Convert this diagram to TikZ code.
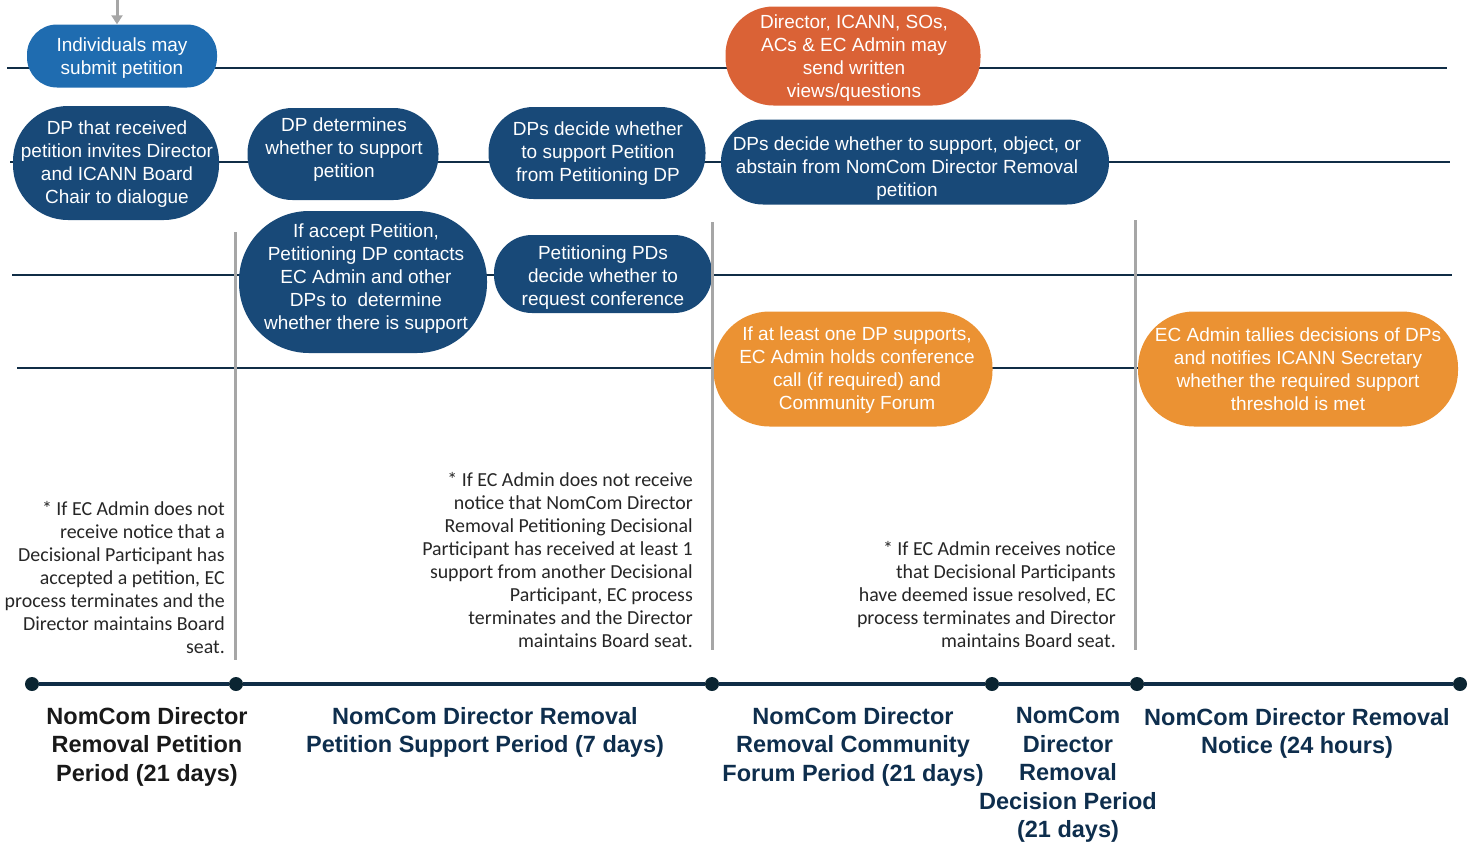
\documentclass[tikz,border=0pt]{standalone}
\usepackage{fontspec}
\setmainfont{Liberation Sans}
\newfontfamily\notefont{Carlito}
\usetikzlibrary{arrows.meta}
\definecolor{dblue}{RGB}{24,73,120}
\definecolor{lblue}{RGB}{31,108,176}
\definecolor{redor}{RGB}{218,98,54}
\definecolor{orng}{RGB}{235,146,51}
\definecolor{lane}{RGB}{16,45,70}
\definecolor{vgray}{RGB}{166,166,166}
\definecolor{notec}{RGB}{38,38,38}
\definecolor{labc}{RGB}{14,46,77}
\definecolor{dotc}{RGB}{11,37,50}
\tikzset{
  pill/.style={draw=none, inner sep=0pt},
  ptext/.style={text=white, align=center, inner sep=0pt,
    font=\fontsize{19}{23}\selectfont},
  laneline/.style={draw=lane, line width=2.5pt},
  vline/.style={draw=vgray, line width=3pt},
  note/.style={text=notec, align=right, inner sep=0pt, anchor=east,
    font=\notefont\fontsize{19.9}{23}\selectfont},
  period/.style={text=labc, align=center, inner sep=0pt,
    font=\bfseries\fontsize{23.5}{28.5}\selectfont},
  tdot/.style={circle, fill=dotc, minimum size=14pt, inner sep=0pt},
}
\begin{document}
\begin{tikzpicture}[x=1pt, y=-1pt]
\useasboundingbox (0,0) rectangle (1471,844);
% lanes
\coordinate (l1a) at (7,68);   \coordinate (l1b) at (1447,68);
\coordinate (l2a) at (10,162); \coordinate (l2b) at (1450,162);
\coordinate (l3a) at (12,275); \coordinate (l3b) at (1452,275);
\coordinate (l4a) at (17,368); \coordinate (l4b) at (1457,368);
\draw[laneline] (l1a) -- (l1b);
\draw[laneline] (l2a) -- (l2b);
\draw[laneline] (l3a) -- (l3b);
\draw[laneline] (l4a) -- (l4b);

% node shapes
\node[pill, fill=lblue, minimum width=190pt, minimum height=63pt, rounded corners=30pt] (n1) at (122,56) {};
\node[pill, fill=redor, minimum width=255pt, minimum height=99pt, rounded corners=48pt] (n2) at (853,56) {};
\node[pill, fill=dblue, minimum width=206pt, minimum height=114pt, rounded corners=55pt] (n3) at (116,163) {};
\node[pill, fill=dblue, minimum width=191pt, minimum height=92pt, rounded corners=45pt] (n4) at (343,154) {};
\node[pill, fill=dblue, minimum width=217pt, minimum height=92pt, rounded corners=45pt] (n5) at (597,153) {};
\node[pill, fill=dblue, minimum width=388pt, minimum height=85pt, rounded corners=42pt] (n6) at (915,162) {};
\node[pill, fill=dblue, minimum width=248pt, minimum height=142pt, rounded corners=70pt] (n7) at (363,282) {};
\node[pill, fill=dblue, minimum width=218pt, minimum height=78pt, rounded corners=38pt] (n8) at (603,274) {};
\node[pill, fill=orng, minimum width=279pt, minimum height=115pt, rounded corners=56pt] (n9) at (853,369) {};
\node[pill, fill=orng, minimum width=320pt, minimum height=115pt, rounded corners=56pt] (n10) at (1298,369) {};

% node texts
\node[ptext] (n1t) at (122,58) {Individuals may\\submit petition};
\node[ptext] (n2t) at (854,58) {Director, ICANN, SOs,\\ACs \& EC Admin may\\send written\\views/questions};
\node[ptext] (n3t) at (117,164.5) {DP that received\\petition invites Director\\and ICANN Board\\Chair to dialogue};
\node[ptext] (n4t) at (344,150) {DP determines\\whether to support\\petition};
\node[ptext] (n5t) at (598,154) {DPs decide whether\\to support Petition\\from Petitioning DP};
\node[ptext] (n6t) at (907,168.5) {DPs decide whether to support, object, or\\abstain from NomCom Director Removal\\petition};
\node[ptext] (n7t) at (366,278.5) {If accept Petition,\\Petitioning DP contacts\\EC Admin and other\\DPs to\ \ determine\\whether there is support};
\node[ptext] (n8t) at (603,277.5) {Petitioning PDs\\decide whether to\\request conference};
\node[ptext] (n9t) at (857,370.5) {If at least one DP supports,\\EC Admin holds conference\\call (if required) and\\Community Forum};
\node[ptext] (n10t) at (1298,369.5) {EC Admin tallies decisions of DPs\\and notifies ICANN Secretary\\whether the required support\\threshold is met};

% incoming arrow
\coordinate (a0) at (117,0);
\draw[draw=vgray, line width=3pt, -{Triangle[width=11pt,length=9pt]}] (a0) -- (a0 |- n1.north);

% vertical separators
\coordinate (g1a) at (235,232);  \coordinate (g1b) at (235,660);
\coordinate (g2a) at (712,222);  \coordinate (g2b) at (712,650);
\coordinate (g3a) at (1135,220); \coordinate (g3b) at (1135,650);
\draw[vline] (g1a) -- (g1b);
\draw[vline] (g2a) -- (g2b);
\draw[vline] (g3a) -- (g3b);

% notes
\node[note] (t1) at (225,577.5) {* If EC Admin does not\\receive notice that a\\Decisional Participant has\\accepted a petition, EC\\process terminates and the\\Director maintains Board\\seat.};
\node[note] (t2) at (693,560.5) {* If EC Admin does not receive\\notice that NomCom Director\\Removal Petitioning Decisional\\Participant has received at least 1\\support from another Decisional\\Participant, EC process\\terminates and the Director\\maintains Board seat.};
\node[note] (t3) at (1116,595) {* If EC Admin receives notice\\that Decisional Participants\\have deemed issue resolved, EC\\process terminates and Director\\maintains Board seat.};

% timeline
\node[tdot] (d1) at (32,684) {};
\node[tdot] (d2) at (236,684) {};
\node[tdot] (d3) at (712,684) {};
\node[tdot] (d4) at (992,684) {};
\node[tdot] (d5) at (1137,684) {};
\node[tdot] (d6) at (1460,684) {};
\draw[draw=lane, line width=4pt] (d1) -- (d2) -- (d3) -- (d4) -- (d5) -- (d6);

% period labels
\node[period, text=black!90] (p1) at (147,746.5) {NomCom Director\\Removal Petition\\Period (21 days)};
\node[period] (p2) at (485,732.5) {NomCom Director Removal\\Petition Support Period (7 days)};
\node[period] (p3) at (853,746.5) {NomCom Director\\Removal Community\\Forum Period (21 days)};
\node[period] (p4) at (1068,775) {NomCom\\Director\\Removal\\Decision Period\\(21 days)};
\node[period] (p5) at (1297,733.5) {NomCom Director Removal\\Notice (24 hours)};
\end{tikzpicture}
\end{document}
